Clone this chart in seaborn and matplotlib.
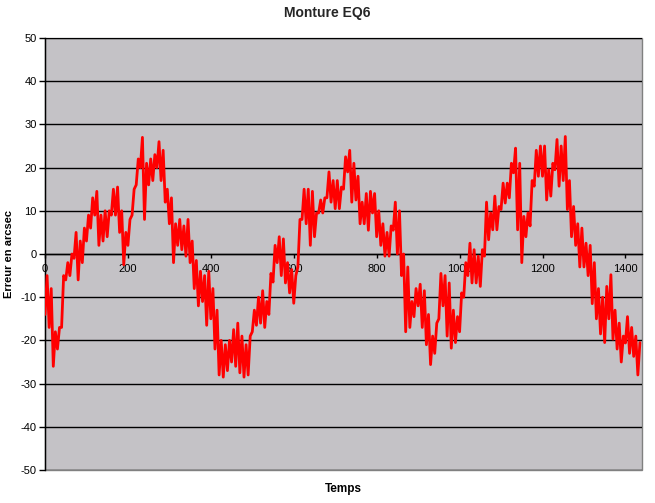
import numpy as np
import pandas as pd
import matplotlib
matplotlib.use('Agg')
import matplotlib.pyplot as plt
import seaborn as sns

# erreur de suivi (arcsec), un point toutes les 5 unités de temps
# (valeurs basse / haute de la bande de bruit, tranche par tranche)
erreur = [
    -14, -5, -17, -8, -26, -18, -22, -17, -17, -5, -6, -2, -5, 0, -1, 5,
    -6, 3, -2, 6, 3, 9, 6, 13, 9, 14.5, 2, 9, 3, 10, 4, 10,
    9, 15, 9, 15.5, 5, 10, -2.5, 5, 2, 8, 9, 15, 16, 22, 20, 27,
    8, 21, 16, 22, 17, 23, 20, 26, 17, 24, 12, 15, 7, 13, -2, 7,
    2, 8, 1, 6.5, -0.5, 8, -2, 3, -8, -1.5, -12, -4, -11, -5, -16.5, -4,
    -15, -8, -22, -13, -28, -20, -28.5, -21, -27, -20, -25, -17.5, -26, -16, -27.5, -19,
    -28.5, -21, -28, -19, -18, -13, -16.5, -10, -16, -8.5, -17, -11, -14, -4.5, -6.5, 2,
    -2, 4, -5, 3.5, -6.7, -2, -9, -3.6, -11.4, -5, -3, 8, 8, 15, 7, 15,
    2, 14.5, 4, 9.5, 9.5, 12.5, 9.5, 13, 13, 19, 12, 17, 10.5, 17, 10.5, 15.5,
    15, 22.5, 19, 24, 12, 21, 12.5, 18, 7, 12, 7, 14, 5.5, 14.5, 9.5, 14,
    4, 10, 2, 7, -0.5, 5, -0.5, 6.5, 5.5, 12, 0, 10, -5, 0, -18, -3,
    -17, -11, -14.5, -8, -12, -7, -17, -8.5, -21, -14, -25.6, -19, -23, -16, -15, -4.5,
    -12, -5, -19, -6.7, -21.8, -13, -20.5, -14.5, -18, -9, -10, -2, -5, 2.5, -6.7, 1,
    -6.7, -0.5, -7.5, 1, -0.5, 12, 3.3, 9.5, 5.6, 13.4, 5.6, 11, 10.3, 16.4, 11.8, 16.4,
    13, 21, 18.8, 24.5, 5.6, 21, -2, 8.7, 4, 9.5, 6.5, 17, 15.7, 24, 18, 25,
    18, 25, 12.5, 19.5, 13.4, 21, 19.5, 26.5, 15.7, 25, 17, 27.2, 10.3, 17, 4, 11,
    2, 7, -3, 6, -3, 2.5, -5, 2, -11.5, -2, -15, -8, -18.5, -10, -20.5, -7.5,
    -15, -4.8, -19.7, -13, -22, -16, -25, -19, -20.6, -14.5, -23, -17, -23.7, -19, -28, -20.5,
]
pas = 5
temps = np.arange(len(erreur)) * pas

df = pd.DataFrame({'Temps': temps, 'Erreur': erreur})

sns.set_theme(style='white')
plt.rcParams['font.family'] = ['Liberation Sans', 'DejaVu Sans']
plt.rcParams['axes.unicode_minus'] = False

fig = plt.figure(figsize=(6.55, 5.03), dpi=100)
ax = fig.add_axes([45 / 655, 1 - 470 / 503, 597 / 655, 432 / 503])
ax.set_facecolor('#c4c2c6')
ax.patch.set_edgecolor('#808080')
ax.patch.set_linewidth(1)

sns.lineplot(data=df, x='Temps', y='Erreur', color='red', linewidth=2, ax=ax, zorder=3)

ax.set_xlim(0, 1440)
ax.set_ylim(-50, 50)
ax.set_yticks(range(-50, 51, 10))
ax.set_xticks(range(0, 1401, 200))
ax.yaxis.grid(True, color='black', linewidth=1)
ax.xaxis.grid(False)
ax.set_axisbelow(True)

ax.spines['top'].set_visible(False)
ax.spines['right'].set_visible(False)
ax.spines['left'].set_color('black')
ax.spines['left'].set_linewidth(1)
ax.spines['bottom'].set_position(('data', 0))
ax.spines['bottom'].set_color('black')
ax.spines['bottom'].set_linewidth(1)

ax.tick_params(axis='y', left=True, direction='out', length=4, width=1, color='black',
               labelsize=8, pad=2, labelcolor='black')
ax.tick_params(axis='x', bottom=True, direction='out', length=3, width=1, color='black',
               labelsize=8, pad=4, labelcolor='black')

fig.suptitle('Monture EQ6', fontsize=10, fontweight='bold', y=1 - 13 / 503, va='center')
ax.set_xlabel('Temps', fontsize=8.5, fontweight='bold', color='black')
ax.xaxis.set_label_coords(0.5, -19 / 432)
ax.xaxis.label.set_va('center')
ax.set_ylabel('Erreur en arcsec', fontsize=8, fontweight='bold', color='black')
ax.yaxis.set_label_coords(-36 / 597, 0.5)
ax.yaxis.label.set_va('center')

fig.savefig('out.png', dpi=100, facecolor='white')
